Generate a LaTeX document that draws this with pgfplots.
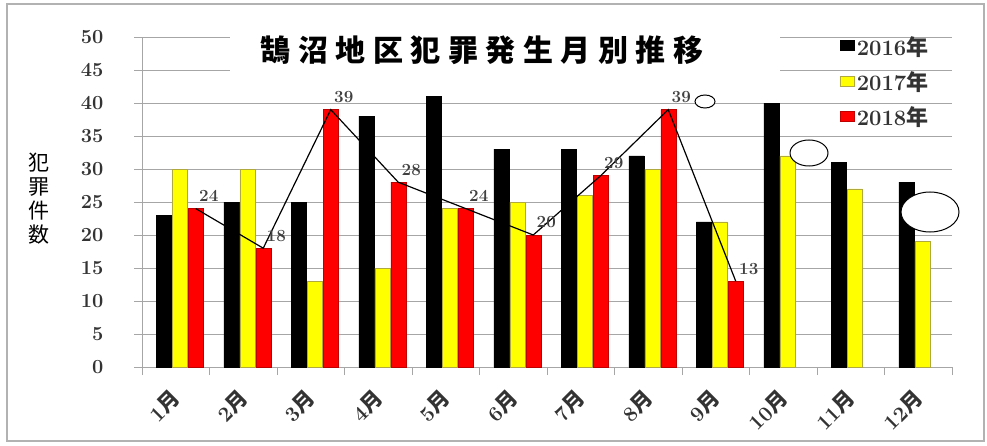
\documentclass[border=0pt]{standalone}
\usepackage{pgfplots}
\pgfplotsset{compat=1.18}
\usepackage{fontspec}
\newfontfamily\cjk{Noto Sans CJK JP}
\newcommand\numfont[1]{\fontsize{#1}{#1}\selectfont\bfseries\addfontfeature{LetterSpace=12}}
\definecolor{c16}{RGB}{0,0,0}
\definecolor{c17}{RGB}{255,255,0}
\definecolor{c18}{RGB}{255,0,0}
\begin{document}
\begin{tikzpicture}[x=1pt,y=1pt]
\useasboundingbox (0,0) rectangle (987,445);
\draw[gray!60, line width=1.5pt] (7,4) rectangle (984,441);
\begin{axis}[
  at={(142pt,78pt)}, anchor=south west,
  width=810pt, height=330pt, scale only axis,
  xmin=0.5, xmax=12.5, ymin=0, ymax=50,
  ytick={0,5,...,50},
  yticklabel={\pgfmathprintnumber[assume math mode=true]{\tick}},
  xtick={0.5,1.5,...,12.5},
  xticklabels={},
  extra x ticks={1,...,12},
  extra x tick labels={1{\cjk 月},2{\cjk 月},3{\cjk 月},4{\cjk 月},5{\cjk 月},6{\cjk 月},7{\cjk 月},8{\cjk 月},9{\cjk 月},10{\cjk 月},11{\cjk 月},12{\cjk 月}},
  extra x tick style={major tick length=0pt, tick style={draw=none},
    xticklabel style={font=\numfont{21}, xshift=-6pt, yshift=-16pt, rotate=45, anchor=north east}},
  /pgf/number format/assume math mode=true,
  ticklabel style={font=\numfont{20}, text=black!80},
  yticklabel style={xshift=-27pt},
  axis x line*=bottom, axis y line*=left,
  axis line style={gray!70, line width=0.8pt},
  tick style={gray!70, line width=0.8pt},
  major tick length=8pt, tick align=outside,
  ymajorgrids, grid style={gray!70, line width=0.8pt},
  ybar=1pt, bar width=15pt,
  legend style={at={(rel axis cs:0.862,1.009)}, anchor=north west, draw=none, fill=none,
    font=\numfont{22}, text=black!80, row sep=11pt, inner sep=0pt,
    /tikz/every even column/.append style={column sep=2pt}},
  legend cell align=left,
  legend image code/.code={\fill[#1] (0pt,-4pt) rectangle (14pt,6pt);},
]
\addplot[fill=c16, draw=black, xshift=4pt] coordinates {(1,23) (2,25) (3,25) (4,38) (5,41) (6,33) (7,33) (8,32) (9,22) (10,40) (11,31) (12,28)};
\addlegendentry{2016{\cjk 年}}
\addplot[fill=c17, draw=yellow!65!black, xshift=4pt] coordinates {(1,30) (2,30) (3,13) (4,15) (5,24) (6,25) (7,26) (8,30) (9,22) (10,32) (11,27) (12,19)};
\addlegendentry{2017{\cjk 年}}
\addplot[fill=c18, draw=red!75!black, xshift=4pt] coordinates {(1,24) (2,18) (3,39) (4,28) (5,24) (6,20) (7,29) (8,39) (9,13)};
\addlegendentry{2018{\cjk 年}}
\addplot[sharp plot, black, line width=1.2pt, xshift=20pt, forget plot,
  nodes near coords, nodes near coords style={font=\numfont{17}, anchor=south, yshift=3pt, xshift=5pt, text=black!75}]
  coordinates {(1,24) (2,18) (3,39) (4,28) (5,24) (6,20) (7,29) (8,39) (9,13)};
\end{axis}
\fill[white] (230,367) rectangle (780,415);
\node[font=\cjk\bfseries\fontsize{30}{30}\selectfont\addfontfeature{LetterSpace=25}] at (482,395) {鵠沼地区犯罪発生月別推移};
\node[font=\cjk\fontsize{21}{21}\selectfont, align=center, inner sep=0pt] at (39,246) {犯\\[3pt]罪\\[3pt]件\\[3pt]数};
\draw[fill=white, line width=1pt] (705,343.5) ellipse (10 and 6.5);
\draw[fill=white, line width=1pt] (809,292) ellipse (19 and 13);
\draw[fill=white, line width=1pt] (930,233) ellipse (29 and 20);
\end{tikzpicture}
\end{document}
